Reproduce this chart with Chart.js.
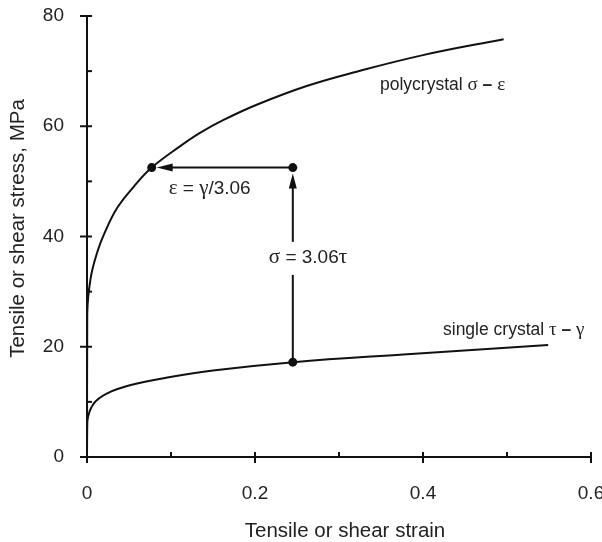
<!DOCTYPE html>
<html><head><meta charset="utf-8">
<script src="https://cdn.jsdelivr.net/npm/chart.js@4.4.1/dist/chart.umd.min.js"></script>
<style>html,body{margin:0;padding:0;background:#fff}#wrap{width:602px;height:542px;position:relative}</style>
</head><body><div id="wrap"><canvas id="c" width="602" height="542"></canvas></div>
<script>
// ---- data ----
const polyStrain = [0, 0.0003, 0.0044, 0.0123, 0.0202, 0.036, 0.056, 0.077, 0.111, 0.1345, 0.162, 0.202, 0.2615, 0.321, 0.400, 0.496];
const polyStress = [0, 26, 32.5, 37.2, 40.4, 45.2, 49.1, 52.5, 56.4, 58.8, 61.1, 63.9, 67.3, 69.9, 72.9, 75.8];
const singleStrain = [0, 0.0004, 0.0075, 0.0234, 0.051, 0.099, 0.150, 0.2456, 0.3765, 0.549];
const singleStress = [0, 6.5, 9.6, 11.5, 13.0, 14.5, 15.7, 17.2, 18.6, 20.3];
const xMajorTicks = [0, 0.2, 0.4, 0.6];
const xMinorTicks = [0.1, 0.3, 0.5];
const yMajorTicks = [0, 20, 40, 60, 80];
const yMinorTicks = [10, 30, 50, 70];
const shearStrain = 0.245;     // gamma at the marked point
const shearStress = 17.2;      // tau at the marked point
const tensileStrain = 0.077;   // epsilon = gamma/3.06
const tensileStress = 52.5;    // sigma = 3.06 tau
const polyLabelAt = [0.3488, 67.5];
const singleLabelAt = [0.4238, 23.0];
const xTitle = 'Tensile or shear strain';
const yTitle = 'Tensile or shear stress, MPa';

const SANS = '"Liberation Sans", Arial, Helvetica, sans-serif';
const SERIF = '"Liberation Serif", "Times New Roman", serif';
const TXT = '#222';
const INK = '#111';

function pts(xs, ys) { return xs.map((x, i) => ({x: x, y: ys[i]})); }

function drawRuns(ctx, runs, x, y) {
  ctx.textBaseline = 'middle';
  ctx.textAlign = 'left';
  let cx = x;
  for (const r of runs) {
    ctx.font = r.f;
    ctx.fillText(r.t, cx, y);
    cx += ctx.measureText(r.t).width;
  }
}
function line(ctx, x1, y1, x2, y2) { ctx.beginPath(); ctx.moveTo(x1, y1); ctx.lineTo(x2, y2); ctx.stroke(); }
function dot(ctx, x, y) { ctx.beginPath(); ctx.arc(x, y, 4.5, 0, Math.PI * 2); ctx.fill(); }

const overlay = {
  id: 'overlay',
  afterDraw(chart) {
    const ctx = chart.ctx, xs = chart.scales.x, ys = chart.scales.y, a = chart.chartArea;
    ctx.save();
    ctx.strokeStyle = INK; ctx.fillStyle = INK; ctx.lineWidth = 2; ctx.lineCap = 'butt';
    // axis ticks
    for (const v of xMajorTicks) { const p = xs.getPixelForValue(v); line(ctx, p, a.bottom - 5, p, a.bottom + 6); }
    for (const v of xMinorTicks) { const p = xs.getPixelForValue(v); line(ctx, p, a.bottom - 5, p, a.bottom); }
    for (const v of yMajorTicks) { const p = ys.getPixelForValue(v); line(ctx, a.left - 7, p, a.left + 5, p); }
    for (const v of yMinorTicks) { const p = ys.getPixelForValue(v); line(ctx, a.left, p, a.left + 5, p); }

    // arrows
    const gx = xs.getPixelForValue(shearStrain);
    const tauY = ys.getPixelForValue(shearStress);
    const sigY = ys.getPixelForValue(tensileStress);
    const ex = xs.getPixelForValue(tensileStrain);
    const textY = (sigY + tauY) / 2 - 7;
    line(ctx, gx, tauY, gx, textY + 17);
    line(ctx, gx, textY - 16, gx, sigY + 18);
    ctx.beginPath(); ctx.moveTo(gx, sigY + 6); ctx.lineTo(gx - 4, sigY + 21); ctx.lineTo(gx + 4, sigY + 21); ctx.closePath(); ctx.fill();
    line(ctx, gx, sigY, ex + 18, sigY);
    ctx.beginPath(); ctx.moveTo(ex + 5, sigY); ctx.lineTo(ex + 21, sigY - 4); ctx.lineTo(ex + 21, sigY + 4); ctx.closePath(); ctx.fill();
    dot(ctx, ex, sigY); dot(ctx, gx, sigY); dot(ctx, gx, tauY);

    // annotation texts
    ctx.fillStyle = TXT;
    drawRuns(ctx, [{t: 'σ', f: '21px ' + SERIF}, {t: ' = 3.06', f: '19px ' + SANS}, {t: 'τ', f: '21px ' + SERIF}], gx - 24, textY);
    drawRuns(ctx, [{t: 'ε', f: '21px ' + SERIF}, {t: ' = ', f: '19px ' + SANS}, {t: 'γ', f: '21px ' + SERIF}, {t: '/3.06', f: '19px ' + SANS}], ex + 17, sigY + 21);
    drawRuns(ctx, [{t: 'polycrystal ', f: '17.5px ' + SANS}, {t: 'σ', f: '19px ' + SERIF}, {t: ' – ', f: 'bold 17.5px ' + SANS}, {t: 'ε', f: '19px ' + SERIF}],
      xs.getPixelForValue(polyLabelAt[0]), ys.getPixelForValue(polyLabelAt[1]));
    drawRuns(ctx, [{t: 'single crystal ', f: '17.5px ' + SANS}, {t: 'τ', f: '19px ' + SERIF}, {t: ' – ', f: 'bold 17.5px ' + SANS}, {t: 'γ', f: '19px ' + SERIF}],
      xs.getPixelForValue(singleLabelAt[0]), ys.getPixelForValue(singleLabelAt[1]));

    // axis titles
    ctx.font = '20.5px ' + SANS; ctx.textAlign = 'center'; ctx.textBaseline = 'middle';
    ctx.fillText(xTitle, (a.left + a.right) / 2 + 6, 531);
    ctx.save();
    ctx.translate(18, (a.top + a.bottom) / 2 - 8);
    ctx.rotate(-Math.PI / 2);
    ctx.fillText(yTitle, 0, 0);
    ctx.restore();
    ctx.restore();
  }
};

const lineStyle = {borderColor: INK, borderWidth: 2, pointRadius: 0, fill: false, tension: 0.4, cubicInterpolationMode: 'default'};

new Chart(document.getElementById('c'), {
  type: 'line',
  data: {
    datasets: [
      Object.assign({label: 'polycrystal σ – ε', data: pts(polyStrain, polyStress)}, lineStyle),
      Object.assign({label: 'single crystal τ – γ', data: pts(singleStrain, singleStress)}, lineStyle)
    ]
  },
  options: {
    responsive: false,
    animation: false,
    devicePixelRatio: 1,
    layout: {padding: {top: 16, right: 11, left: 0, bottom: 0}},
    plugins: {legend: {display: false}, tooltip: {enabled: false}},
    scales: {
      x: {
        type: 'linear', min: 0, max: 0.6,
        afterBuildTicks: s => { s.ticks = xMajorTicks.map(v => ({value: v})); },
        ticks: {font: {family: SANS, size: 19}, color: TXT, padding: 25, callback: v => String(v)},
        grid: {display: false, drawTicks: false},
        border: {display: true, color: INK, width: 2},
        afterFit: s => { s.height = 85; s.paddingLeft = 0; s.paddingRight = 0; }
      },
      y: {
        type: 'linear', min: 0, max: 80,
        afterBuildTicks: s => { s.ticks = yMajorTicks.map(v => ({value: v})); },
        ticks: {font: {family: SANS, size: 19}, color: TXT, padding: 23, callback: v => String(v)},
        grid: {display: false, drawTicks: false},
        border: {display: true, color: INK, width: 2},
        afterFit: s => { s.width = 87; s.paddingTop = 0; s.paddingBottom = 0; }
      }
    }
  },
  plugins: [overlay]
});
</script></body></html>
